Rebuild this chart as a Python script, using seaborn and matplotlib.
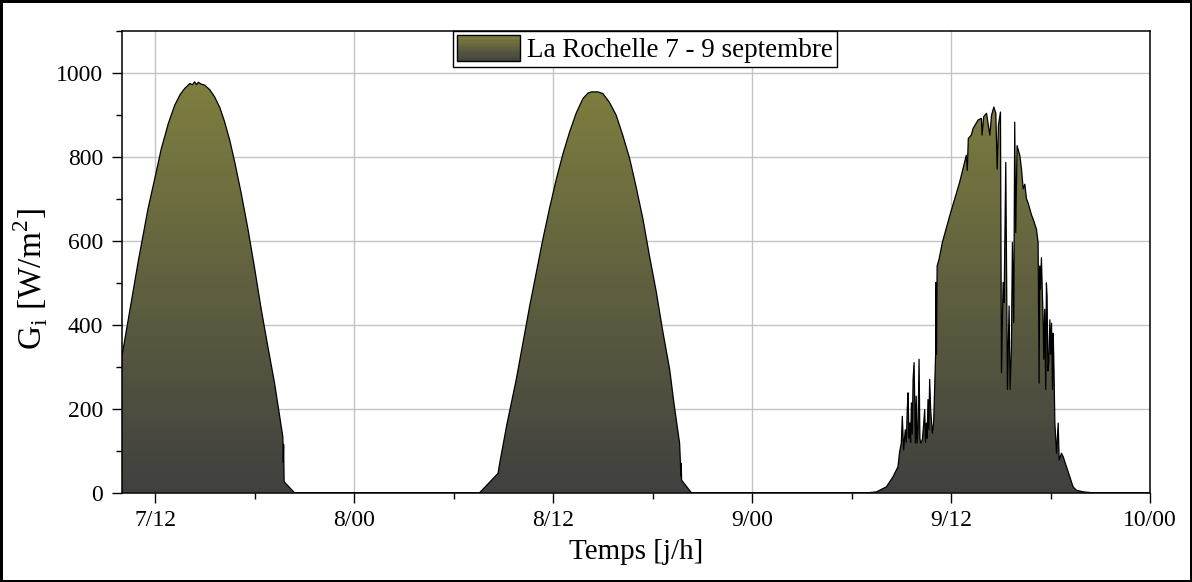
import numpy as np
import pandas as pd
import matplotlib
matplotlib.use("Agg")
import matplotlib.pyplot as plt
import seaborn as sns
from matplotlib.colors import LinearSegmentedColormap
from matplotlib.patches import Rectangle, Patch
from matplotlib.legend_handler import HandlerBase
from matplotlib.ticker import MultipleLocator, FixedLocator

# ---------------- data (hours since 7 Sept 00:00, irradiance W/m2) ----------------
day7_hours = [10.0, 10.5, 11.0, 11.57, 12.0, 12.37, 12.8, 13.18, 13.5, 13.78, 14.1, 14.25, 14.38,
              14.5, 14.6, 14.75, 14.99, 15.3, 15.59, 15.9, 16.19, 16.5, 16.8, 17.2, 17.6, 18.0,
              18.4, 18.8, 19.2, 19.5, 19.7, 19.72, 19.73, 19.75, 19.78, 20.41]
day7_values = [325, 440, 555, 676, 752, 819, 880, 923, 948, 963, 975, 972, 979,
               972, 978, 974, 971, 960, 943, 918, 884, 840, 788, 712, 628, 535,
               437, 348, 262, 185, 134, 110, 72, 115, 26, 0]

day8_hours = [31.57, 32.68, 32.78, 33.2, 33.78, 34.2, 34.59, 35.0, 35.39, 35.8, 36.2, 36.6,
              37.0, 37.4, 37.8, 38.1, 38.31, 38.7, 39.0, 39.4, 39.8, 40.2, 40.62, 41.0,
              41.42, 41.8, 42.23, 42.6, 43.03, 43.3, 43.63, 43.68, 43.70, 43.73, 43.75, 44.34]
day8_values = [0, 46, 70, 160, 270, 360, 445, 527, 605, 680, 748, 808,
               860, 905, 939, 952, 955, 955, 951, 930, 900, 852, 796, 730,
               652, 567, 477, 388, 294, 210, 118, 70, 40, 70, 30, 0]

day9_hours = [55.0, 55.5, 56.1, 56.5, 56.8, 56.9, 57.0, 57.06, 57.14, 57.24, 57.30, 57.36,
              57.41, 57.46, 57.51, 57.56, 57.61, 57.66, 57.71, 57.77, 57.85, 57.90, 57.95,
              58.01, 58.07, 58.12, 58.17, 58.27, 58.34, 58.41, 58.46, 58.51, 58.56, 58.61,
              58.66, 58.71, 58.77, 58.87, 58.95, 59.07, 59.09, 59.12, 59.16, 59.28, 59.48,
              59.92, 60.52, 60.92, 60.98, 61.04, 61.22, 61.33, 61.63, 61.83, 61.87, 61.97,
              62.14, 62.34, 62.44, 62.58, 62.70, 62.78, 62.86, 62.98, 63.04, 63.14, 63.20,
              63.30, 63.40, 63.50, 63.56, 63.64, 63.70, 63.78, 63.84, 63.90, 63.98, 64.15,
              64.25, 64.35, 64.45, 64.55, 64.65, 64.75, 64.85, 64.95, 65.05, 65.15, 65.25,
              65.31, 65.35, 65.39, 65.45, 65.51, 65.55, 65.59, 65.65, 65.71, 65.75, 65.79,
              65.84, 65.89, 65.96, 66.01, 66.06, 66.12, 66.16, 66.20, 66.26, 66.36, 66.46,
              66.52, 66.66, 66.76, 66.96, 67.16, 67.36, 67.56, 67.97, 68.5, 72.0]
day9_values = [0, 2, 14, 38, 62, 98, 118, 182, 102, 150, 120, 200,
               238, 130, 166, 120, 214, 140, 270, 310, 118, 230, 118,
               160, 318, 130, 118, 126, 160, 198, 120, 166, 130, 222,
               150, 270, 198, 142, 166, 330, 501, 330, 540, 557, 597,
               660, 740, 804, 768, 844, 852, 868, 888, 892, 852, 896,
               904, 852, 899, 919, 904, 771, 876, 907, 286, 501, 453,
               787, 246, 445, 246, 343, 596, 405, 883, 620, 827, 803,
               770, 724, 735, 700, 690, 676, 662, 652, 640, 628, 596,
               261, 540, 485, 560, 469, 420, 318, 437, 246, 500, 469,
               290, 310, 412, 330, 404, 246, 380, 310, 166, 94, 166,
               78, 94, 86, 62, 38, 14, 6, 2, 0, 0]

tick_hours = [12, 24, 36, 48, 60, 72]
tick_labels = ["7/12", "8/00", "8/12", "9/00", "9/12", "10/00"]
legend_label = "La Rochelle 7 - 9 septembre"

df = pd.DataFrame({
    "h": day7_hours + day8_hours + day9_hours,
    "G": day7_values + day8_values + day9_values,
})

# ---------------- style ----------------
sns.set_style("ticks")
plt.rcParams["font.family"] = ["Liberation Serif", "DejaVu Serif"]
plt.rcParams["mathtext.fontset"] = "custom"
plt.rcParams["mathtext.rm"] = "Liberation Serif"
for k in ["text.color", "axes.labelcolor", "xtick.color", "ytick.color"]:
    plt.rcParams[k] = "black"

top_col = "#80803f"
bot_col = "#404040"
cmap = LinearSegmentedColormap.from_list("olive", [bot_col, top_col])

fig = plt.figure(figsize=(11.92, 5.82), dpi=100)
fig.patch.set_edgecolor("black")
fig.patch.set_linewidth(2.5)
ax = fig.add_axes([0.1023, 0.1534, 0.8625, 0.7933])

# grid behind
ax.set_axisbelow(True)
ax.grid(True, which="major", color="#c4c4c4", linewidth=1.0)

# gradient fill clipped to area under the curve
poly = ax.fill_between(df["h"], df["G"], 0, facecolor="none", edgecolor="none", zorder=2)
grad = np.linspace(0, 1, 256).reshape(-1, 1)
img = ax.imshow(grad, extent=[10, 72, 0, 1000], origin="lower", aspect="auto",
                cmap=cmap, zorder=2, interpolation="bilinear")
img.set_clip_path(poly.get_paths()[0], transform=ax.transData)

sns.lineplot(data=df, x="h", y="G", ax=ax, color="black", linewidth=0.9,
             sort=False, estimator=None, zorder=3, legend=False)

ax.set_xlim(10, 72)
ax.set_ylim(0, 1100)

ax.xaxis.set_major_locator(FixedLocator(tick_hours))
ax.set_xticklabels(tick_labels)
ax.xaxis.set_minor_locator(MultipleLocator(6))
ax.yaxis.set_major_locator(FixedLocator([0, 200, 400, 600, 800, 1000]))
ax.yaxis.set_minor_locator(MultipleLocator(100))

ax.tick_params(which="major", direction="out", length=7.5, width=1.0, labelsize=17, colors="black")
ax.tick_params(axis="x", which="major", pad=5)
ax.tick_params(axis="y", which="major", pad=6)
ax.tick_params(which="minor", direction="out", length=4, width=1.0, colors="black")
for s in ax.spines.values():
    s.set_visible(True)
    s.set_color("black")
    s.set_linewidth(1.1)

ax.set_xlabel("Temps [j/h]", fontsize=21, labelpad=6, color="black")
ax.set_ylabel(r"G$_\mathregular{i}$ [W/m$^\mathregular{2}$]", fontsize=24, color="black")
ax.yaxis.set_label_coords(-0.070, 0.463)


class GradientHandler(HandlerBase):
    def create_artists(self, legend, orig_handle, xdescent, ydescent, width, height, fontsize, trans):
        arts = []
        n = 24
        for i in range(n):
            r = Rectangle((-xdescent, -ydescent + i * height / n), width, height / n + 0.3,
                          facecolor=cmap((i + 0.5) / n), edgecolor="none", transform=trans)
            arts.append(r)
        arts.append(Rectangle((-xdescent, -ydescent), width, height, facecolor="none",
                              edgecolor="black", linewidth=1.0, transform=trans))
        return arts


proxy = Patch(facecolor=top_col, edgecolor="black")
leg = ax.legend([proxy], [legend_label], handler_map={Patch: GradientHandler()},
                loc="upper center", bbox_to_anchor=(0.509, 1.0), borderaxespad=0,
                fontsize=19.5, frameon=True, fancybox=False, framealpha=1,
                edgecolor="black", handlelength=2.3, handleheight=1.1,
                handletextpad=0.28, borderpad=0.15)
leg.get_frame().set_linewidth(1.0)
for t in leg.get_texts():
    t.set_color("black")
leg.set_zorder(5)

fig.savefig("out.png", dpi=100, edgecolor=fig.get_edgecolor(), facecolor="white")
